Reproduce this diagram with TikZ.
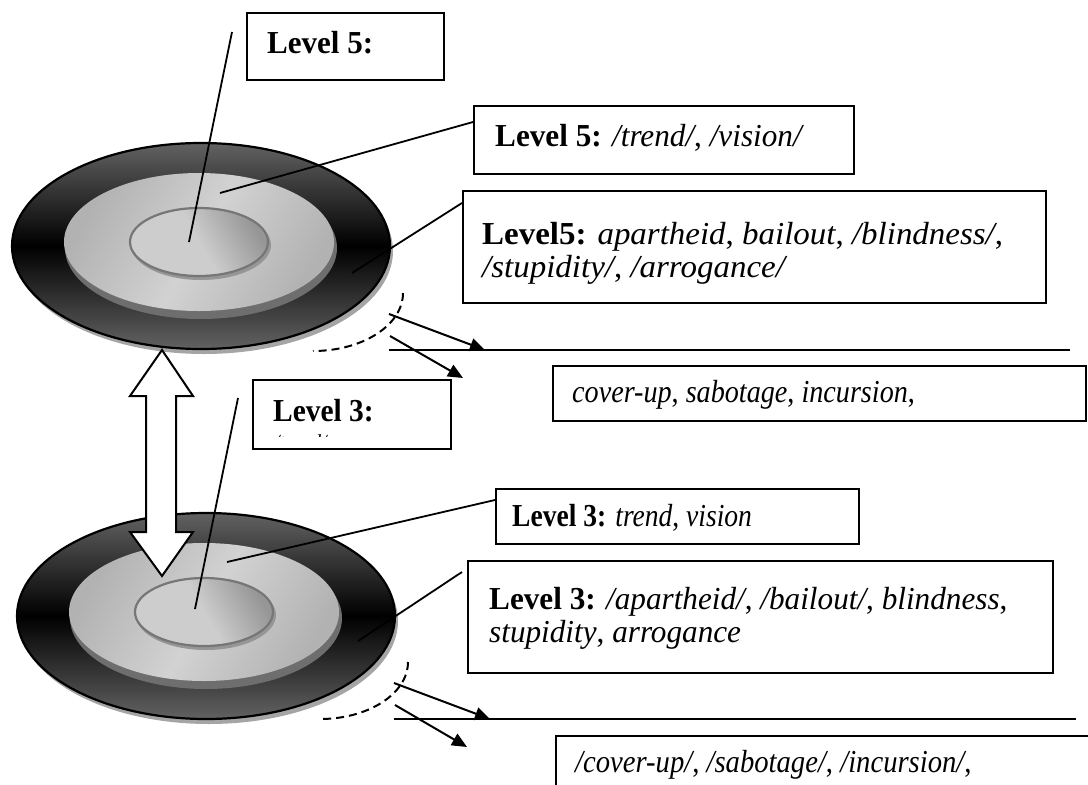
\documentclass[tikz,border=0pt]{standalone}
\usepackage{fontspec}
\setmainfont{Liberation Serif}
\usetikzlibrary{arrows.meta,calc}

\definecolor{rimgray}{RGB}{98,98,98}
\definecolor{dropgray}{RGB}{165,165,165}
\definecolor{platelight}{RGB}{210,210,210}
\definecolor{platedark}{RGB}{178,178,178}
\definecolor{plateedge}{RGB}{110,110,110}
\definecolor{corestroke}{RGB}{118,118,118}
\definecolor{coredark}{RGB}{150,150,150}
\definecolor{corelight}{RGB}{205,205,205}

% text squeezed horizontally by a given factor
\newcommand{\narrowtext}[2]{\scalebox{#1}[1]{#2}}

\tikzset{
  txt/.style={font=\fontsize{32}{35}\selectfont, inner sep=0pt, anchor=base west},
  callbox/.style={draw, line width=2pt, anchor=north west, inner sep=0pt, fill=white},
  callout/.style={line width=1.8pt},
  pointer/.style={line width=2pt, -{Triangle[length=15pt,width=13pt]}},
  levelline/.style={line width=2pt},
  dashedarc/.style={dash pattern=on 8pt off 5pt, line width=2pt},
  disk/.pic={
    % drop shadow and dark rim
    \fill[dropgray] (3,5) ellipse [x radius=189, y radius=103];
    \shade[top color=rimgray, bottom color=rimgray, middle color=black]
      (0,0) ellipse [x radius=189, y radius=103];
    \draw[line width=2.2pt] (0,0) ellipse [x radius=189, y radius=103];
    % middle plate
    \fill[plateedge] (0,2) ellipse [x radius=136, y radius=71];
    \shade[left color=platedark, right color=platedark, middle color=platelight, shading angle=60]
      (-2,-4) ellipse [x radius=135, y radius=69];
    % inner core
    \fill[coredark] (0,-1) ellipse [x radius=70, y radius=35];
    \shade[left color=corelight, right color=coredark, middle color=corelight, shading angle=120]
      (-2,-4) ellipse [x radius=69, y radius=34];
    \draw[corestroke, line width=2.2pt] (-2,-4) ellipse [x radius=69, y radius=34];
  }
}

\begin{document}
\begin{tikzpicture}[x=1pt, y=-1pt]
\useasboundingbox (0,0) rectangle (1088,785);
\clip (0,0) rectangle (1088,785);
\fill[white] (0,0) rectangle (1088,785);

% the two disks
\pic at (201,246) {disk};
\pic at (206,616) {disk};

% double arrow between the disks
\draw[line width=2pt, fill=white, line join=miter]
  (162,350) -- (193,396) -- (176,396) -- (176,532) -- (193,532) -- (162,576)
  -- (130,532) -- (146,532) -- (146,396) -- (130,396) -- cycle;

% boxes
\node[callbox, minimum width=197pt, minimum height=67pt] (boxA) at (246,12) {};
\node[callbox, minimum width=380pt, minimum height=68pt] (boxB) at (473,105) {};
\node[callbox, minimum width=583pt, minimum height=112pt] (boxC) at (462,190) {};
\node[callbox, minimum width=533pt, minimum height=55pt] (boxD) at (552,365) {};
\node[callbox, minimum width=198pt, minimum height=69pt] (boxE) at (252,379) {};
\node[callbox, minimum width=363pt, minimum height=55pt] (boxF) at (495,488) {};
\node[callbox, minimum width=585pt, minimum height=112pt] (boxG) at (467,560) {};
\node[callbox, minimum width=560pt, minimum height=80pt] (boxH) at (555,735) {};

% texts
\node[txt] (tA) at (267,53) {\narrowtext{0.97}{\textbf{Level 5:}}};
\node[txt] (tB) at (495,146) {\narrowtext{0.975}{\textbf{Level 5:} \textit{/trend/}, \textit{/vision/}}};
\node[txt] (tC1) at (482,244) {\narrowtext{1.03}{\textbf{Level5:} \textit{apartheid}, \textit{bailout}, \textit{/blindness/},}};
\node[txt] (tC2) at (482,277) {\narrowtext{1.03}{\textit{/stupidity/}, \textit{/arrogance/}}};
\node[txt] (tD) at (572,402) {\narrowtext{0.88}{\textit{cover-up}, \textit{sabotage}, \textit{incursion},}};
\node[txt] (tE) at (273,421) {\narrowtext{0.92}{\textbf{Level 3:}}};
\node[txt] (tF) at (512,526) {\narrowtext{0.86}{\textbf{Level 3:} \textit{trend}, \textit{vision}}};
\node[txt] (tG1) at (489,609) {\narrowtext{0.975}{\textbf{Level 3:} \textit{/apartheid/}, \textit{/bailout/}, \textit{blindness},}};
\node[txt] (tG2) at (489,642) {\narrowtext{0.975}{\textit{stupidity}, \textit{arrogance}}};
\node[txt] (tH) at (575,772) {\narrowtext{0.895}{\textit{/cover-up/}, \textit{/sabotage/}, \textit{/incursion/},}};

% second line of the small Level 3 box, cut by its frame
\begin{scope}
  \clip (254,429) rectangle (448,436);
  \node[txt, font=\fontsize{20}{22}\selectfont] (tE2) at (274,448) {\textit{/trend/}};
\end{scope}

% callout lines, upper disk
\coordinate (uCore) at (189,242);
\coordinate (uCoreEnd) at (232,32);
\coordinate (uPlate) at (220,193);
\coordinate (uRim) at (352,273);
\draw[callout] (uCore) -- (uCoreEnd);
\draw[callout] (uPlate) -- (boxB.west |- 0,122);
\draw[callout] (uRim) -- (boxC.west |- 0,203);

% callout lines, lower disk
\coordinate (lCore) at (195,609);
\coordinate (lCoreEnd) at (238,398);
\coordinate (lPlate) at (227,562);
\coordinate (lRim) at (358,641);
\coordinate (lRimEnd) at (462,572);
\draw[callout] (lCore) -- (lCoreEnd);
\draw[callout] (lPlate) -- (boxF.west |- 0,500);
\draw[callout] (lRim) -- (lRimEnd);

% dashed arc and pointers, upper
\draw[dashedarc] (403,293) arc [start angle=0, end angle=90, x radius=90, y radius=58];
\coordinate (uLineL) at (389,350);
\coordinate (uLineR) at (1070,350);
\draw[levelline] (uLineL) -- (uLineR);
\coordinate (uP1) at (389,314);
\coordinate (uP1End) at (485,350);
\coordinate (uP2) at (390,336);
\coordinate (uP2End) at (463,378);
\draw[pointer] (uP1) -- (uP1End);
\draw[pointer] (uP2) -- (uP2End);

% dashed arc and pointers, lower
\draw[dashedarc] (408,662) arc [start angle=0, end angle=90, x radius=88, y radius=57];
\coordinate (lLineL) at (394,719);
\coordinate (lLineR) at (1076,719);
\draw[levelline] (lLineL) -- (lLineR);
\coordinate (lP1) at (394,683);
\coordinate (lP1End) at (490,719);
\coordinate (lP2) at (395,705);
\coordinate (lP2End) at (467,747);
\draw[pointer] (lP1) -- (lP1End);
\draw[pointer] (lP2) -- (lP2End);
\end{tikzpicture}
\end{document}
